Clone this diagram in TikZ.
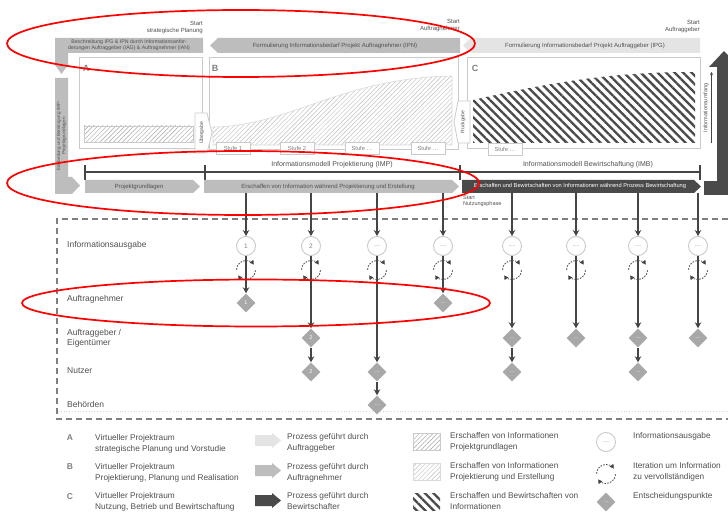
\documentclass[tikz,border=0pt]{standalone}
\usepackage{fontspec}
\setmainfont{Liberation Sans}
\usetikzlibrary{arrows.meta,patterns.meta,shapes.geometric,calc}
\definecolor{lightarr}{HTML}{E4E4E4}
\definecolor{midarr}{HTML}{BDBDBD}
\definecolor{darkarr}{HTML}{4A4A4A}
\definecolor{framegray}{HTML}{CACACA}
\definecolor{txtgray}{HTML}{505050}
\definecolor{flowgray}{HTML}{454545}
\definecolor{diagray}{HTML}{A8A8A8}
\begin{document}
\begin{tikzpicture}[x=1pt,y=-1pt,
  bartext/.style={font=\fontsize{6}{7}\selectfont, text=txtgray, inner sep=0},
  startlbl/.style={font=\fontsize{6}{7.5}\selectfont, text=txtgray, inner sep=0},
  frame/.style={draw=framegray, line width=1pt},
  boxlbl/.style={font=\bfseries\fontsize{9}{9}\selectfont, text=gray, inner sep=0},
  lighthatchA/.style={pattern={Lines[angle=45,distance=3.2pt,line width=0.45pt]}, pattern color=gray!70, draw=framegray, line width=0.6pt},
  lighthatchB/.style={pattern={Lines[angle=45,distance=3.2pt,line width=0.45pt]}, pattern color=gray!50, draw=framegray!70, line width=0.6pt},
  darkhatch/.style={pattern={Lines[angle=-45,distance=6pt,line width=2.3pt]}, pattern color=darkarr},
  tabbox/.style={draw=framegray, fill=white, line width=0.8pt},
  tabtext/.style={font=\fontsize{5}{6}\selectfont, text=txtgray, inner sep=0, rotate=90},
  stufe/.style={draw=framegray, fill=white, line width=0.6pt, minimum width=34pt, minimum height=12pt, inner sep=0, font=\fontsize{5.8}{6}\selectfont, text=gray},
  tl/.style={draw=flowgray, line width=1.3pt},
  tltext/.style={font=\fontsize{7}{8}\selectfont, text=txtgray, inner sep=0},
  dashframe/.style={draw=gray, line width=1.1pt, dash pattern=on 6pt off 4pt},
  rowlabel/.style={font=\fontsize{8.5}{10}\selectfont, text=txtgray, anchor=west, align=left, inner sep=0},
  flow/.style={draw=flowgray, line width=1.7pt, -{Stealth[length=6pt,width=6.5pt]}},
  infocircle/.style={circle, draw=framegray, line width=0.9pt, fill=white, minimum size=19pt, inner sep=0, font=\fontsize{6.5}{6.5}\selectfont, text=gray},
  decision/.style={diamond, fill=diagray, minimum size=19pt, inner sep=0, font=\fontsize{5.5}{5.5}\selectfont, text=white},
  legtext/.style={font=\fontsize{8.3}{11}\selectfont, text=txtgray, anchor=west, align=left, inner sep=0},
  leglet/.style={font=\bfseries\fontsize{8.5}{10}\selectfont, text=gray, inner sep=0},
  iter/.pic={
    \draw[flowgray, line width=0.8pt, dash pattern=on 1.6pt off 1.3pt, -{Triangle[length=4pt,width=4.5pt]}] (-178:9.5) arc[start angle=-178, end angle=-35, radius=9.5];
    \draw[flowgray, line width=0.8pt, dash pattern=on 1.6pt off 1.3pt, -{Triangle[length=4pt,width=4.5pt]}] (2:9.5) arc[start angle=2, end angle=145, radius=9.5];
  },
  redring/.style={draw=red, line width=1.7pt}
]
\useasboundingbox (0,0) rectangle (728,518);
\fill[white] (0,0) rectangle (728,518);

% ---------- start labels ----------
\node[startlbl, anchor=north east, align=right] (s1) at (203,21) {Start\\strategische Planung};
\node[startlbl, anchor=north east, align=right] (s2) at (460,19) {Start\\Auftragnehmer};
\node[startlbl, anchor=north east, align=right] (s3) at (700,20) {Start\\Auftraggeber};

% ---------- top process bars ----------
\fill[midarr] (55,38) -- (203,38) -- (203,53) -- (68,53) -- (68,65) -- (61.5,74) -- (55,65) -- cycle;
\node[bartext, font=\fontsize{5.2}{5.9}\selectfont, align=center] (ipgn) at (129,45.5) {Beschreibung IPG \& IPN durch Informationsanfor-\\derungen Auftraggeber (IAG) \& Auftragnehmer (IAN)};
\fill[midarr] (460,38) -- (218,38) -- (210,45.5) -- (218,53) -- (460,53) -- cycle;
\node[bartext] (ipn) at (335,45.5) {Formulierung Informationsbedarf Projekt Auftragnehmer (IPN)};
\fill[lightarr] (700,38) -- (471,38) -- (463,45.5) -- (471,53) -- (700,53) -- cycle;
\node[bartext] (ipg) at (585,45.5) {Formulierung Informationsbedarf Projekt Auftraggeber (IPG)};

% ---------- project rooms ----------
\draw[frame] (79,58) rectangle (202,149);
\draw[frame] (209,58) rectangle (458,150);
\draw[frame] (467,58) rectangle (700,149);
\node[boxlbl] (lbA) at (86,68) {A};
\node[boxlbl] (lbB) at (215,68) {B};
\node[boxlbl] (lbC) at (475,68) {C};

\path[lighthatchA] (84,126) rectangle (193,142);
\path[lighthatchB] (213,145) -- (213,127) .. controls (290,126) and (340,78) .. (452,76) -- (452,145) -- cycle;
\path[darkhatch] (473,143) -- (473,100) .. controls (560,80) and (620,72) .. (695,72) -- (695,143) -- cycle;

\draw[tabbox] (195,113) -- (207,113) -- (212,133) -- (207,153) -- (195,153) -- cycle;
\node[tabtext] (ueb) at (201.5,133) {Übergabe};
\draw[tabbox] (470,101) -- (458,101) -- (454,122) -- (458,143) -- (470,143) -- cycle;
\node[tabtext] (rueck) at (463,122) {Rückgabe};

\node[stufe] (st1) at (233,148) {Stufe 1};
\node[stufe] (st2) at (297,148) {Stufe 2};
\node[stufe] (st3) at (362,148) {Stufe \ldots};
\node[stufe] (st4) at (428,148) {Stufe \ldots};
\node[stufe] (st5) at (505,149) {Stufe \ldots};

% ---------- information axis ----------
\fill[darkarr] (717,195) -- (717,67) -- (709,67) -- (724,51) -- (739,67) -- (731,67) -- (731,195) -- cycle;
\fill[darkarr] (704,181) rectangle (731,195);
\coordinate (axb) at (711.5,143);
\coordinate (axt) at (711.5,72);
\draw[flowgray, line width=0.6pt, -{Stealth[length=3pt,width=3pt]}] (axb) -- (axt);
\node[tabtext, font=\fontsize{5.5}{6}\selectfont] (infu) at (706,108) {Informationsumfang};

% ---------- timeline ----------
\coordinate (t0) at (85,172);
\coordinate (t3) at (700,172);
\draw[tl] (t0) -- (t3);
\foreach \tx in {85,205,460,700} \draw[tl] (\tx,165) -- (\tx,180);
\node[tltext] (imp) at (332,165) {Informationsmodell Projektierung (IMP)};
\node[tltext] (imb) at (588,165) {Informationsmodell Bewirtschaftung (IMB)};

% ---------- process row ----------
\fill[midarr] (55,78) -- (68,78) -- (68,177) -- (72,177) -- (80,185.5) -- (72,194) -- (55,194) -- cycle;
\node[bartext, rotate=90, align=center, font=\fontsize{4.6}{5.3}\selectfont] (erb) at (61.5,136) {Erarbeitung und Bereinigung IMP-\\Projektgrundlagen};

\fill[midarr] (85,180) -- (193,180) -- (200,186.5) -- (193,193) -- (85,193) -- cycle;
\node[bartext, minimum height=13pt] (pa) at (139,186.5) {Projektgrundlagen};
\fill[midarr] (204,180) -- (452,180) -- (459,186.5) -- (452,193) -- (204,193) -- cycle;
\node[bartext, minimum height=13pt] (pb) at (328,186.5) {Erschaffen von Information während Projektierung und Erstellung};
\fill[darkarr] (462,180) -- (694,180) -- (701,186.5) -- (694,193) -- (462,193) -- cycle;
\node[bartext, text=white, minimum height=13pt, font=\fontsize{5.7}{7}\selectfont] (pc) at (580,186.5) {Erschaffen und Bewirtschaften von Informationen während Prozess Bewirtschaftung};

\node[startlbl, anchor=north west, align=left, font=\fontsize{5.5}{6.8}\selectfont] (s4) at (463,195) {Start\\Nutzungsphase};

% ---------- lower frame ----------
\draw[dashframe] (728,219) -- (57,219) -- (57,419) -- (728,419);
\draw[gray!30, line width=0.8pt, dotted] (58,411) -- (728,411);

\node[rowlabel] (r1) at (67,245) {Informationsausgabe};
\node[rowlabel] (r2) at (67,299) {Auftragnehmer};
\node[rowlabel] (r3) at (67,338) {Auftraggeber /\\Eigentümer};
\node[rowlabel] (r4) at (67,371) {Nutzer};
\node[rowlabel] (r5) at (67,404) {Behörden};

% ---------- columns ----------
\foreach \i/\x/\l/\src in {1/246/1/pb, 2/311/2/pb, 3/377/{\ldots}/pb, 4/443/{\ldots}/pb, 5/512/{\ldots}/pc, 6/576/{\ldots}/pc, 7/638/{\ldots}/pc, 8/698/{\ldots}/pc}{
  \node[infocircle] (c\i) at (\x,246) {\l};
  \draw[flow] (c\i.north |- \src.south) -- (c\i.north);
}
\foreach \n/\x/\y/\l in {d1a/246/303/1, d2a/311/338/2, d2b/311/372/2, d3a/377/372/{\ldots}, d3b/377/405/{\ldots}, d4a/443/303/{\ldots}, d5a/512/338/{\ldots}, d5b/512/372/{\ldots}, d6a/576/338/{\ldots}, d7a/638/338/{\ldots}, d7b/638/372/{\ldots}, d8a/698/338/{\ldots}}{
  \node[decision] (\n) at (\x,\y) {\l};
}
\foreach \a/\b in {c1/d1a, c2/d2a, d2a/d2b, c3/d3a, d3a/d3b, c4/d4a, c5/d5a, d5a/d5b, c6/d6a, c7/d7a, d7a/d7b, c8/d8a}{
  \draw[flow] (\a) -- (\b);
}
\foreach \x in {246,311,377,443,512,576,638,698}{
  \pic at (\x,270) {iter};
}

% ---------- legend ----------
\node[leglet] (la) at (70,438) {A};
\node[leglet] (lb) at (70,467) {B};
\node[leglet] (lcc) at (70,497) {C};
\node[legtext] (ta) at (95,443.5) {Virtueller Projektraum\\strategische Planung und Vorstudie};
\node[legtext] (tb) at (95,472.5) {Virtueller Projektraum\\Projektierung, Planung und Realisation};
\node[legtext] (tc) at (95,502) {Virtueller Projektraum\\Nutzung, Betrieb und Bewirtschaftung};

\fill[lightarr] (255,435) -- (272,435) -- (272,433) -- (281,440.5) -- (272,448) -- (272,446) -- (255,446) -- cycle;
\fill[midarr] (255,465) -- (272,465) -- (272,463) -- (281,470.5) -- (272,478) -- (272,476) -- (255,476) -- cycle;
\fill[darkarr] (255,495) -- (272,495) -- (272,493) -- (281,500.5) -- (272,508) -- (272,506) -- (255,506) -- cycle;
\node[legtext] (tp1) at (287,442.5) {Prozess geführt durch\\Auftraggeber};
\node[legtext] (tp2) at (287,472.5) {Prozess geführt durch\\Auftragnehmer};
\node[legtext] (tp3) at (287,501.5) {Prozess geführt durch\\Bewirtschafter};

\path[lighthatchA] (413,433) rectangle (440,450);
\path[lighthatchB] (413,463) rectangle (440,480);
\path[darkhatch] (413,493) rectangle (440,510);
\node[legtext] (th1) at (450,441.5) {Erschaffen von Informationen\\Projektgrundlagen};
\node[legtext] (th2) at (450,471.5) {Erschaffen von Informationen\\Projektierung und Erstellung};
\node[legtext] (th3) at (450,501.5) {Erschaffen und Bewirtschaften von\\Informationen};

\node[infocircle] (lci) at (606,442) {\ldots};
\pic at (606,474) {iter};
\node[decision] (ldi) at (606,502) {\ldots};
\node[legtext] (ti1) at (633,436) {Informationsausgabe};
\node[legtext] (ti2) at (633,471.5) {Iteration um Information\\zu vervollständigen};
\node[legtext] (ti3) at (633,496) {Entscheidungspunkte};

% ---------- red annotation rings ----------
\draw[redring] (241,43.5) ellipse [x radius=234, y radius=33.5];
\draw[redring] (243,183) ellipse [x radius=236, y radius=32];
\draw[redring] (256,303) ellipse [x radius=234, y radius=23.5];
\end{tikzpicture}
\end{document}
